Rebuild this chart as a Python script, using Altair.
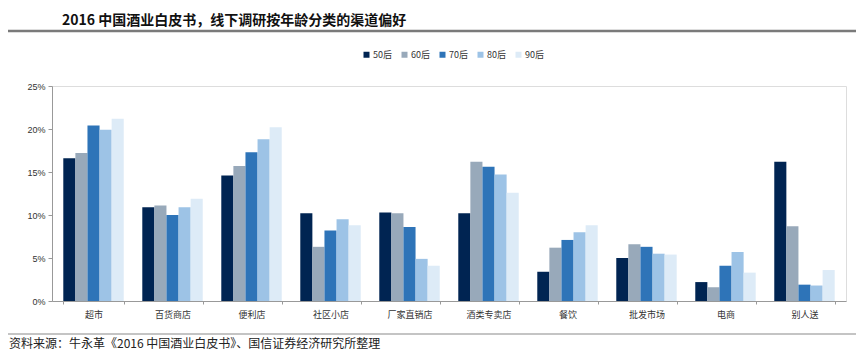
import altair as alt
import pandas as pd

channels = ["超市", "百货商店", "便利店", "社区小店", "厂家直销店", "酒类专卖店", "餐饮", "批发市场", "电商", "别人送"]
ages = ["50后", "60后", "70后", "80后", "90后"]
colors = ["#002452", "#98A9BA", "#2E74B8", "#9DC3E6", "#DDEBF7"]

v50 = [16.6, 10.9, 14.6, 10.2, 10.3, 10.2, 3.4, 5.0, 2.2, 16.2]
v60 = [17.2, 11.1, 15.7, 6.3, 10.2, 16.2, 6.2, 6.6, 1.6, 8.7]
v70 = [20.4, 10.0, 17.3, 8.2, 8.6, 15.6, 7.1, 6.3, 4.1, 1.9]
v80 = [19.9, 10.9, 18.8, 9.5, 4.9, 14.7, 8.0, 5.5, 5.7, 1.8]
v90 = [21.2, 11.9, 20.2, 8.8, 4.1, 12.6, 8.8, 5.4, 3.3, 3.6]

title_text = "2016 中国酒业白皮书，线下调研按年龄分类的渠道偏好"
source_text = "资料来源：牛永革《2016 中国酒业白皮书》、国信证券经济研究所整理"
y_ticks = [0, 0.05, 0.10, 0.15, 0.20, 0.25]

rows = []
for age, vals in zip(ages, [v50, v60, v70, v80, v90]):
    for ch, v in zip(channels, vals):
        rows.append({"channel": ch, "age": age, "value": v / 100})
df = pd.DataFrame(rows)

W, H = 794, 215
sans = "Liberation Sans, Arial, Noto Sans CJK SC"
cjk = "Noto Sans CJK SC"

bars = alt.Chart(df).mark_bar().encode(
    x=alt.X("channel:N", sort=channels,
            scale=alt.Scale(paddingInner=0.235, paddingOuter=0.143),
            axis=alt.Axis(title=None, labelAngle=0, labelFont=cjk, labelFontSize=9,
                          labelColor="#333333", domainColor="#999999", tickColor="#999999",
                          tickSize=3, tickBand="extent", labelPadding=6)),
    xOffset=alt.XOffset("age:N", sort=ages, scale=alt.Scale(paddingInner=0, paddingOuter=0)),
    y=alt.Y("value:Q", scale=alt.Scale(domain=[0, 0.25], nice=False),
            axis=alt.Axis(title=None, values=y_ticks, format=".0%", grid=False,
                          labelFont=sans, labelFontSize=9, labelColor="#333333",
                          domainColor="#999999", tickColor="#999999", tickSize=4,
                          labelPadding=3)),
    color=alt.Color("age:N", sort=ages, scale=alt.Scale(domain=ages, range=colors),
                    legend=alt.Legend(title=None, orient="none", direction="horizontal",
                                      legendX=310, legendY=-36, symbolType="square",
                                      symbolSize=36, symbolStrokeWidth=0,
                                      labelFont=cjk, labelFontSize=9, labelColor="#333333",
                                      columnPadding=8, symbolOffset=0, labelOffset=2)),
)

one = pd.DataFrame({"a": [0]})

title = alt.Chart(one).mark_text(text=title_text, font=cjk, fontSize=14, fontWeight="bold",
                                 align="left", baseline="middle", color="#111111").encode(
    x=alt.value(10), y=alt.value(-65))

top_rule = alt.Chart(one).mark_rule(color="#7a7a7a", strokeWidth=2.5).encode(
    x=alt.value(-44), x2=alt.value(W + 10), y=alt.value(-55))

bottom_rule = alt.Chart(one).mark_rule(color="#8a8a8a", strokeWidth=1.2).encode(
    x=alt.value(-44), x2=alt.value(W + 10), y=alt.value(248))

source = alt.Chart(one).mark_text(text=source_text, font=cjk, fontSize=12,
                                  align="left", baseline="middle", color="#222222").encode(
    x=alt.value(-43), y=alt.value(258))

chart = alt.layer(bars, title, top_rule, bottom_rule, source).properties(
    width=W, height=H,
    autosize=alt.AutoSizeParams(type="none"),
    padding={"left": 44, "top": 78, "right": 10, "bottom": 49},
).configure_view(stroke=None).configure(background="white")

chart.save("out.html", embed_options={"renderer": "svg", "actions": False})
